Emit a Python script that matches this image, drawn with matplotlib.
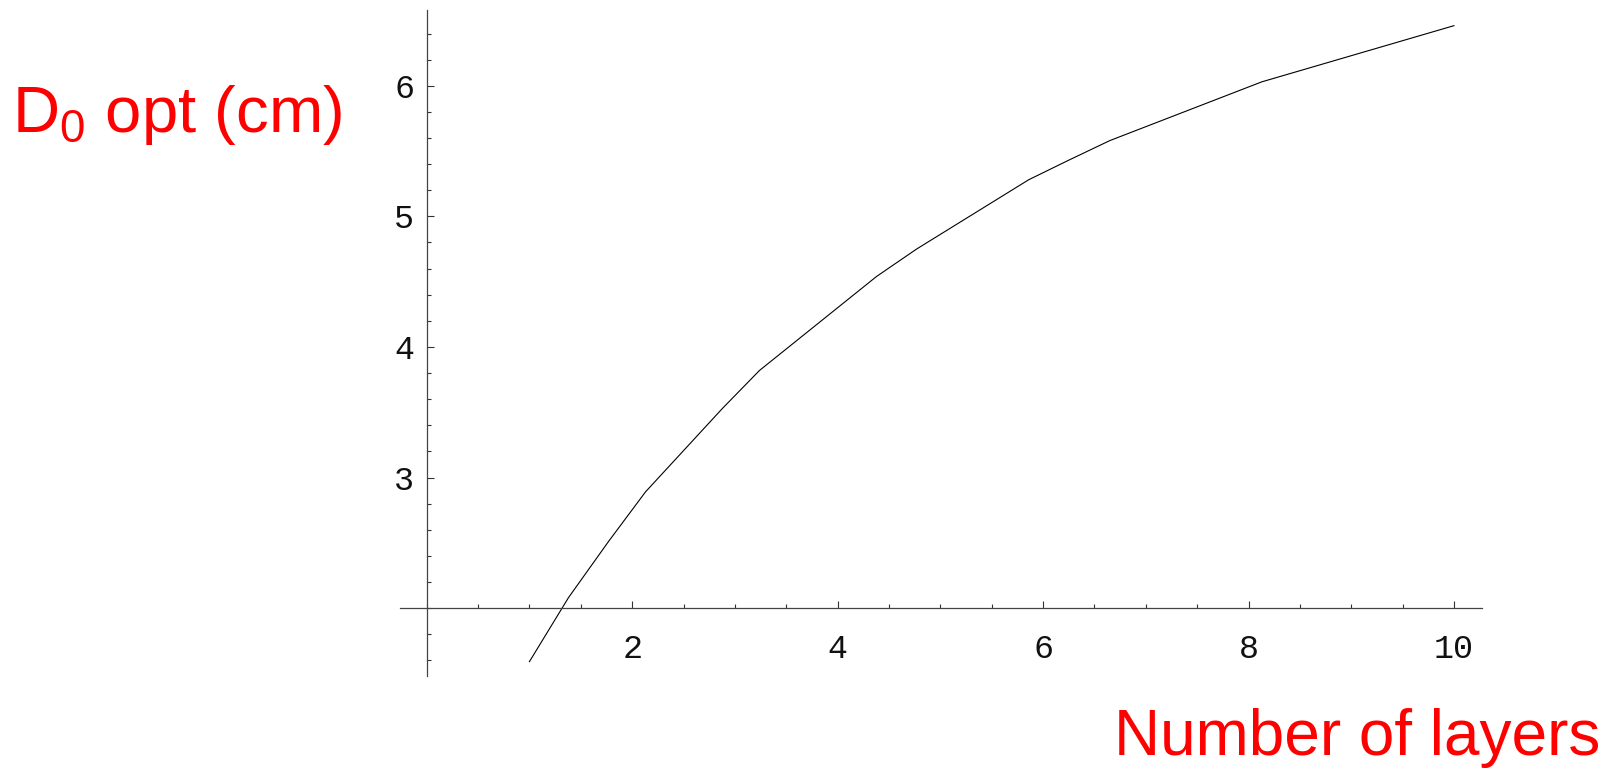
import matplotlib
matplotlib.use("Agg")
import matplotlib.pyplot as plt
from matplotlib.ticker import MultipleLocator, FixedLocator

# Optimal D0 versus number of layers
layers = [1.0, 1.38, 1.77, 2.13, 2.88, 3.24, 4.38, 4.77, 5.86, 6.25, 6.65, 8.13, 10.0]
d0_opt = [1.59, 2.08, 2.51, 2.89, 3.53, 3.82, 4.54, 4.75, 5.28, 5.43, 5.58, 6.03, 6.46]

x_major = [2, 4, 6, 8, 10]
y_major = [3, 4, 5, 6]

plt.rcParams["mathtext.fontset"] = "custom"
plt.rcParams["mathtext.rm"] = "Liberation Sans"
plt.rcParams["mathtext.it"] = "Liberation Sans"
plt.rcParams["mathtext.bf"] = "Liberation Sans"

W, H, DPI = 1612, 768, 100
fig = plt.figure(figsize=(W / DPI, H / DPI), dpi=DPI)
fig.patch.set_facecolor("white")

ax = fig.add_axes([400 / W, (H - 676) / H, 1081.7 / W, 666 / H])
ax.set_xlim(-0.26, 10.27)
ax.set_ylim(1.48, 6.58)

ax.plot(layers, d0_opt, color="black", lw=0.8, solid_joinstyle="miter")

# Axes crossing at (0, 2)
for side in ("top", "right"):
    ax.spines[side].set_visible(False)
ax.spines["left"].set_position(("data", 0))
ax.spines["bottom"].set_position(("data", 2))
for side in ("left", "bottom"):
    ax.spines[side].set_color("#444444")
    ax.spines[side].set_linewidth(0.9)

ax.xaxis.set_major_locator(FixedLocator(x_major))
ax.xaxis.set_minor_locator(MultipleLocator(0.5))
ax.yaxis.set_major_locator(FixedLocator(y_major))
ax.yaxis.set_minor_locator(MultipleLocator(0.2))

tick_font = {"family": "Liberation Mono", "size": 24}
ax.tick_params(axis="both", which="both", direction="in", color="#333333", width=0.8)
ax.tick_params(axis="both", which="major", length=5)
ax.tick_params(axis="both", which="minor", length=3)
ax.tick_params(axis="x", which="major", pad=19)
ax.tick_params(axis="y", which="major", pad=9)
ax.set_xticklabels([str(v) for v in x_major], fontdict=tick_font, color="#111111")
ax.set_yticklabels([str(v) for v in y_major], fontdict=tick_font, color="#111111")

ax.set_facecolor("none")

fig.text(12 / W, (H - 131.7) / H, r"D$_0$ opt (cm)", color="red",
         fontsize=47, family="Liberation Sans", ha="left", va="baseline")
fig.text(1600 / W, (H - 755) / H, "Number of layers", color="red",
         fontsize=46, family="Liberation Sans", ha="right", va="baseline")

fig.savefig("out.png", dpi=DPI, facecolor="white")
